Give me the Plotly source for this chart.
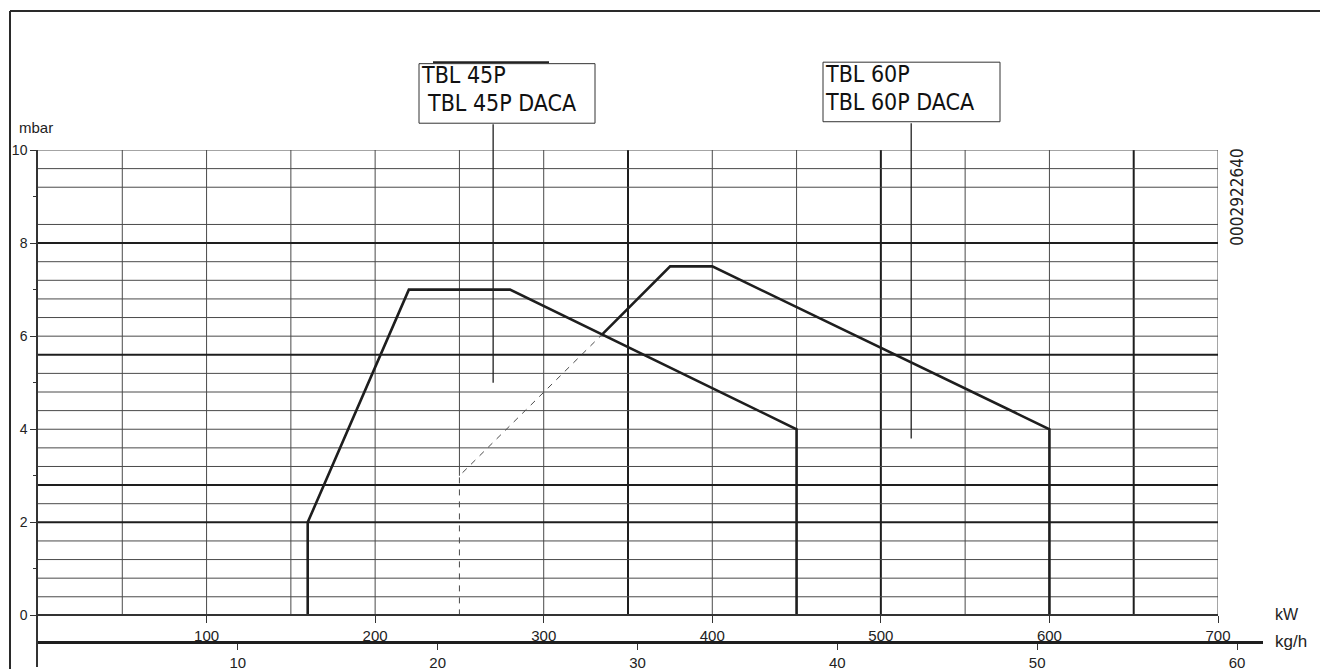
import plotly.graph_objects as go

# ---------------- data ----------------
KW_TICKS = [100, 200, 300, 400, 500, 600, 700]
KGH_TICKS = [10, 20, 30, 40, 50, 60]
MBAR_TICKS = [0, 2, 4, 6, 8, 10]
MBAR_MINOR = [1, 3, 5, 7, 9]

GRID_X = [50, 100, 150, 200, 250, 300, 400, 450, 550, 600, 700]
GRID_X_START = {250: 3.0}  # the 250 kW line only starts above the dashed segment
GRID_X_THICK = [350, 500, 650]
GRID_Y = [0.4, 0.8, 1.2, 1.6, 2.4, 3.2, 3.6, 4.0, 4.4, 4.8, 5.2,
          6.0, 6.4, 6.8, 7.2, 7.6, 8.4, 9.2, 9.6, 10.0]
GRID_Y_THICK = [2.0, 2.8, 5.6, 8.0]

TBL45_KW = [160, 160, 220, 280, 450, 450]
TBL45_MBAR = [0, 2, 7, 7, 4, 0]

TBL60_KW = [335, 375, 400, 600, 600]
TBL60_MBAR = [6.05, 7.5, 7.5, 4, 0]
TBL60_DASH_KW = [250, 250, 335]
TBL60_DASH_MBAR = [0, 3, 6.05]

LABEL45_POINT = (270, 5.0)
LABEL60_POINT = (518, 3.8)

# ---------------- layout helpers (pixels -> paper) ----------------
W, H = 1320, 671
L, RPX, T = 38, 1263, 150
PW, PH = RPX - L, H - T
KW_RIGHT_PX = 1218
Y0_PX = 619
MBAR_PX = (Y0_PX - T) / 10.0


def px(x):
    return (x - L) / PW


def py(y):
    return (H - y) / PH


def mbar_at(y):
    return (Y0_PX - y) / MBAR_PX


KW_DOMAIN_END = (KW_RIGHT_PX - L) / PW
KGH_RANGE = PW / ((1237 - 38) / 60.0)
Y_MIN = -(H - Y0_PX) / MBAR_PX

INK = "#1e1e1e"
GRID = "#4a4a4a"
FONT = "Liberation Sans, Arial, sans-serif"
NARROW = "DejaVu Sans Condensed, Liberation Sans Narrow, Arial Narrow, sans-serif"

fig = go.Figure()

fig.add_trace(go.Scatter(x=TBL60_DASH_KW, y=TBL60_DASH_MBAR, mode="lines",
                         line=dict(color="#4a4a4a", width=1, dash="6px,6px"),
                         hoverinfo="skip", showlegend=False))
fig.add_trace(go.Scatter(x=TBL45_KW, y=TBL45_MBAR, mode="lines",
                         line=dict(color=INK, width=2.6),
                         name="TBL 45P", showlegend=False))
fig.add_trace(go.Scatter(x=TBL60_KW, y=TBL60_MBAR, mode="lines",
                         line=dict(color=INK, width=2.6),
                         name="TBL 60P", showlegend=False))
# carrier trace for the kg/h axis
fig.add_trace(go.Scatter(x=KGH_TICKS, y=[None] * len(KGH_TICKS), xaxis="x2", yaxis="y",
                         mode="lines", hoverinfo="skip", showlegend=False))

shapes = []
for gx in GRID_X:
    shapes.append(dict(type="line", xref="x", yref="y", x0=gx, x1=gx,
                       y0=GRID_X_START.get(gx, 0), y1=10,
                       line=dict(color=GRID, width=1), layer="below"))
for gx in GRID_X_THICK:
    shapes.append(dict(type="line", xref="x", yref="y", x0=gx, x1=gx, y0=0, y1=10,
                       line=dict(color=INK, width=2), layer="below"))
for gy in GRID_Y:
    shapes.append(dict(type="line", xref="x", yref="y", x0=0, x1=700, y0=gy, y1=gy,
                       line=dict(color=GRID, width=1), layer="below"))
for gy in GRID_Y_THICK:
    shapes.append(dict(type="line", xref="x", yref="y", x0=0, x1=700, y0=gy, y1=gy,
                       line=dict(color=INK, width=2), layer="below"))

# page frame (top and left)
shapes.append(dict(type="line", xref="paper", yref="paper", x0=px(10), x1=px(1322),
                   y0=py(10), y1=py(10), line=dict(color="#2a2a2a", width=2)))
shapes.append(dict(type="line", xref="paper", yref="paper", x0=px(10), x1=px(10),
                   y0=py(10), y1=py(673), line=dict(color="#2a2a2a", width=2)))

# label boxes
shapes.append(dict(type="rect", xref="paper", yref="paper", x0=px(419), x1=px(595),
                   y0=py(123), y1=py(63), line=dict(color="#333333", width=1)))
shapes.append(dict(type="line", xref="paper", yref="paper", x0=px(433), x1=px(549),
                   y0=py(61.5), y1=py(61.5), line=dict(color="#222222", width=2)))
shapes.append(dict(type="rect", xref="paper", yref="paper", x0=px(823), x1=px(1000),
                   y0=py(121.5), y1=py(61.5), line=dict(color="#333333", width=1)))

annotations = [
    dict(text="TBL 45P", xref="paper", yref="paper", x=px(419), y=py(74),
         xanchor="left", yanchor="middle", showarrow=False,
         font=dict(family=NARROW, size=23, color="#111")),
    dict(text="TBL 45P DACA", xref="paper", yref="paper", x=px(425), y=py(102.5),
         xanchor="left", yanchor="middle", showarrow=False,
         font=dict(family=NARROW, size=23, color="#111")),
    dict(text="TBL 60P", xref="paper", yref="paper", x=px(823), y=py(73),
         xanchor="left", yanchor="middle", showarrow=False,
         font=dict(family=NARROW, size=23, color="#111")),
    dict(text="TBL 60P DACA", xref="paper", yref="paper", x=px(823), y=py(101.5),
         xanchor="left", yanchor="middle", showarrow=False,
         font=dict(family=NARROW, size=23, color="#111")),
    # pointer lines
    dict(text=" ", x=LABEL45_POINT[0], y=LABEL45_POINT[1], xref="x", yref="y",
         ax=LABEL45_POINT[0], ay=mbar_at(122), axref="x", ayref="y",
         showarrow=True, arrowhead=0, arrowwidth=1.3, arrowcolor="#222",
         font=dict(size=1)),
    dict(text=" ", x=LABEL60_POINT[0], y=LABEL60_POINT[1], xref="x", yref="y",
         ax=LABEL60_POINT[0], ay=mbar_at(121), axref="x", ayref="y",
         showarrow=True, arrowhead=0, arrowwidth=1.3, arrowcolor="#222",
         font=dict(size=1)),
    dict(text="mbar", xref="paper", yref="paper", x=px(17), y=py(127),
         xanchor="left", yanchor="middle", showarrow=False,
         font=dict(family=FONT, size=15, color="#222")),
    dict(text="kW", xref="paper", yref="paper", x=px(1273), y=py(618),
         xanchor="left", yanchor="middle", showarrow=False,
         font=dict(family=FONT, size=16, color="#222")),
    dict(text="kg/h", xref="paper", yref="paper", x=px(1273), y=py(645),
         xanchor="left", yanchor="middle", showarrow=False,
         font=dict(family=FONT, size=17, color="#222")),
    dict(text="0002922640", xref="paper", yref="paper", x=px(1237), y=py(198),
         xanchor="center", yanchor="middle", textangle=-90, showarrow=False,
         font=dict(family=NARROW, size=17, color="#222")),
]

fig.update_layout(
    width=W, height=H,
    margin=dict(l=L, r=W - RPX, t=T, b=0, pad=0),
    paper_bgcolor="white", plot_bgcolor="rgba(0,0,0,0)",
    showlegend=False,
    shapes=shapes,
    annotations=annotations,
    xaxis=dict(domain=[0, KW_DOMAIN_END], range=[0, 700], anchor="free", position=py(Y0_PX),
               showgrid=False, zeroline=False, showline=True, linecolor="#333", linewidth=1.5,
               tickmode="array", tickvals=KW_TICKS, ticks="outside", ticklen=7,
               tickcolor="#333", tickwidth=1.3,
               tickfont=dict(family=FONT, size=15, color="#222")),
    xaxis2=dict(domain=[0, 1], range=[0, KGH_RANGE], anchor="free", position=py(646),
                showgrid=False, zeroline=False, showline=True, linecolor="#1e1e1e", linewidth=2.6,
                tickmode="array", tickvals=KGH_TICKS, ticks="outside", ticklen=6,
                tickcolor="#333", tickwidth=1.3,
                tickfont=dict(family=FONT, size=15, color="#222")),
    yaxis=dict(domain=[0, 1], range=[Y_MIN, 10], anchor="x",
               showgrid=False, zeroline=False, showline=True, linecolor="#333", linewidth=1.5,
               tickmode="array", tickvals=MBAR_TICKS, ticks="outside", ticklen=6,
               tickcolor="#333", tickwidth=1.3,
               tickfont=dict(family=FONT, size=14, color="#222"),
               minor=dict(tickvals=MBAR_MINOR, ticks="outside", ticklen=3,
                          tickcolor="#333", tickwidth=1.3)),
)

fig.write_html("out.html", config={"displayModeBar": False},
               post_script="document.body.style.margin='0';document.body.style.overflow='hidden';")
